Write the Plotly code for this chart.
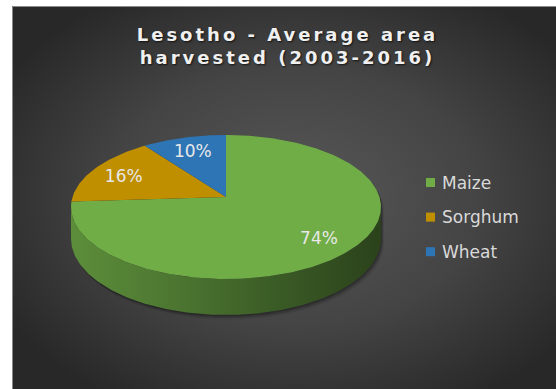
import base64
import numpy as np
import plotly.graph_objects as go

# Average area harvested in Lesotho, 2003-2016 (share of total, %)
crops = ["Maize", "Sorghum", "Wheat"]
share_pct = [74, 16, 10]
top_colors = ["#70AD47", "#BF8F00", "#2E75B6"]

W, H = 556, 389

# 3-D disc projection parameters (screen pixels)
CX, CY = 226.0, 197.0      # centre of the pie's top face
RX, RY = 153.5, 70.6       # horizontal / vertical radius scale
PERSP = 0.139              # far side drawn smaller than near side
DEPTH = 31.0               # thickness of the disc
LABEL_R = 0.77             # radial position of the percentage labels


def project(theta, r=1.0, drop=0.0):
    """Angle measured clockwise from 12 o'clock -> screen x, y (y grows down)."""
    theta = np.asarray(theta, dtype=float)
    X = r * np.sin(theta)
    Y = r * np.cos(theta)
    s = 1.0 / (1.0 + PERSP * Y)
    return CX + RX * X * s, CY - RY * Y * s + drop * s


def shade(hex_color, f):
    h = hex_color.lstrip("#")
    rgb = [int(h[i:i + 2], 16) for i in (0, 2, 4)]
    return "#" + "".join(f"{max(0, min(255, round(c * f))):02x}" for c in rgb)


fracs = np.array(share_pct, dtype=float) / sum(share_pct)
bounds = np.concatenate([[0.0], np.cumsum(fracs)]) * 2 * np.pi

# the cylinder wall is visible between the two silhouette angles
wall_lo = np.arccos(-PERSP)
wall_hi = 2 * np.pi - wall_lo

fig = go.Figure()

# soft drop shadow below the disc
sil_back = np.linspace(wall_hi - 2 * np.pi, wall_lo, 200)
sil_front = np.linspace(wall_lo, wall_hi, 200)
bx, by = project(sil_back)
fx, fy = project(sil_front, drop=DEPTH)
sx = np.concatenate([bx, fx])
sy = np.concatenate([by, fy])
for dx, dy, a in [(1.0, 1.5, 0.20), (2.0, 3.0, 0.14), (3.0, 4.5, 0.08)]:
    fig.add_trace(go.Scatter(
        x=sx + dx, y=sy + dy, mode="lines", fill="toself",
        line=dict(width=0), fillcolor=f"rgba(0,0,0,{a})",
        hoverinfo="skip", showlegend=False))

# side walls
for name, col, t0, t1 in zip(crops, top_colors, bounds[:-1], bounds[1:]):
    a, b = max(t0, wall_lo), min(t1, wall_hi)
    if a >= b:
        continue
    t = np.linspace(a, b, 200)
    x_top, y_top = project(t)
    x_bot, y_bot = project(t[::-1], drop=DEPTH)
    fig.add_trace(go.Scatter(
        x=np.concatenate([x_top, x_bot]), y=np.concatenate([y_top, y_bot]),
        mode="lines", fill="toself", line=dict(width=0),
        fillgradient=dict(type="horizontal", colorscale=[
            [0.0, shade(col, 0.82)], [0.3, shade(col, 0.70)],
            [0.65, shade(col, 0.53)], [1.0, shade(col, 0.38)]]),
        hoverinfo="skip", showlegend=False))

# top faces of the slices
for name, col, v, t0, t1 in zip(crops, top_colors, share_pct, bounds[:-1], bounds[1:]):
    t = np.linspace(t0, t1, max(20, int(400 * (t1 - t0) / (2 * np.pi))))
    x_arc, y_arc = project(t)
    fig.add_trace(go.Scatter(
        x=np.concatenate([[CX], x_arc, [CX]]), y=np.concatenate([[CY], y_arc, [CY]]),
        mode="lines", fill="toself", line=dict(width=0), fillcolor=col,
        name=name, hovertemplate=f"{name}: {v}%<extra></extra>", showlegend=False))

# percentage labels
mids = (bounds[:-1] + bounds[1:]) / 2
lx, ly = project(mids, r=LABEL_R)
fig.add_trace(go.Scatter(
    x=lx, y=ly + 3, mode="text", text=[f"{v}%" for v in share_pct],
    textposition="middle center",
    textfont=dict(family="DejaVu Sans", size=17, color="#e8e8e8"),
    hoverinfo="skip", showlegend=False))

# legend: swatches and names
LEG_X, LEG_Y, LEG_STEP = 430.5, 182.5, 34.6
leg_y = [LEG_Y + i * LEG_STEP for i in range(len(crops))]
fig.add_trace(go.Scatter(
    x=[LEG_X] * len(crops), y=leg_y, mode="markers",
    marker=dict(symbol="square", size=9, color=top_colors, line=dict(width=0)),
    hoverinfo="skip", showlegend=False))
for name, y in zip(crops, leg_y):
    fig.add_annotation(x=LEG_X + 9.5, y=y, text=name, xref="x", yref="y",
                       xanchor="left", yanchor="middle", showarrow=False,
                       font=dict(family="DejaVu Sans", size=17, color="#d9d9d9"))

# dark radial-gradient chart area with a light edge
BX0, BY0 = 12, 6
bw, bh = W - BX0, H - BY0
bg_svg = (
    f'<svg xmlns="http://www.w3.org/2000/svg" width="{bw}" height="{bh}">'
    '<defs><radialGradient id="g" cx="52%" cy="50%" r="62%">'
    '<stop offset="0" stop-color="#585858"/>'
    '<stop offset="0.55" stop-color="#444444"/>'
    '<stop offset="1" stop-color="#282828"/>'
    '</radialGradient></defs>'
    f'<rect x="0" y="0" width="{bw}" height="{bh}" fill="url(#g)"/>'
    f'<path d="M0.5 {bh} V0.5 H{bw}" stroke="#8a8a8a" stroke-width="1" fill="none"/>'
    '</svg>')
bg_uri = "data:image/svg+xml;base64," + base64.b64encode(bg_svg.encode()).decode()
fig.add_layout_image(dict(
    source=bg_uri, xref="paper", yref="paper",
    x=BX0 / W, y=1 - BY0 / H, sizex=bw / W, sizey=bh / H,
    xanchor="left", yanchor="top", sizing="stretch", layer="below"))

title_lines = ["Lesotho - Average area", "harvested (2003-2016)"]
fig.update_layout(
    width=W, height=H, margin=dict(l=0, r=0, t=0, b=0),
    paper_bgcolor="white", plot_bgcolor="rgba(0,0,0,0)",
    xaxis=dict(range=[0, W], visible=False, fixedrange=True),
    yaxis=dict(range=[H, 0], visible=False, fixedrange=True),
    showlegend=False,
    title=dict(
        text="<br>".join(f'<span style="letter-spacing:3px">{t}</span>' for t in title_lines),
        x=287.5 / W, xanchor="center", xref="paper",
        y=1 - 41 / H, yanchor="top", yref="container",
        font=dict(family="DejaVu Sans", size=18, color="#f0f0f0", weight="bold",
                  shadow="1px 1px 2px rgba(0,0,0,0.7)")),
)

fig.write_html("out.html")
